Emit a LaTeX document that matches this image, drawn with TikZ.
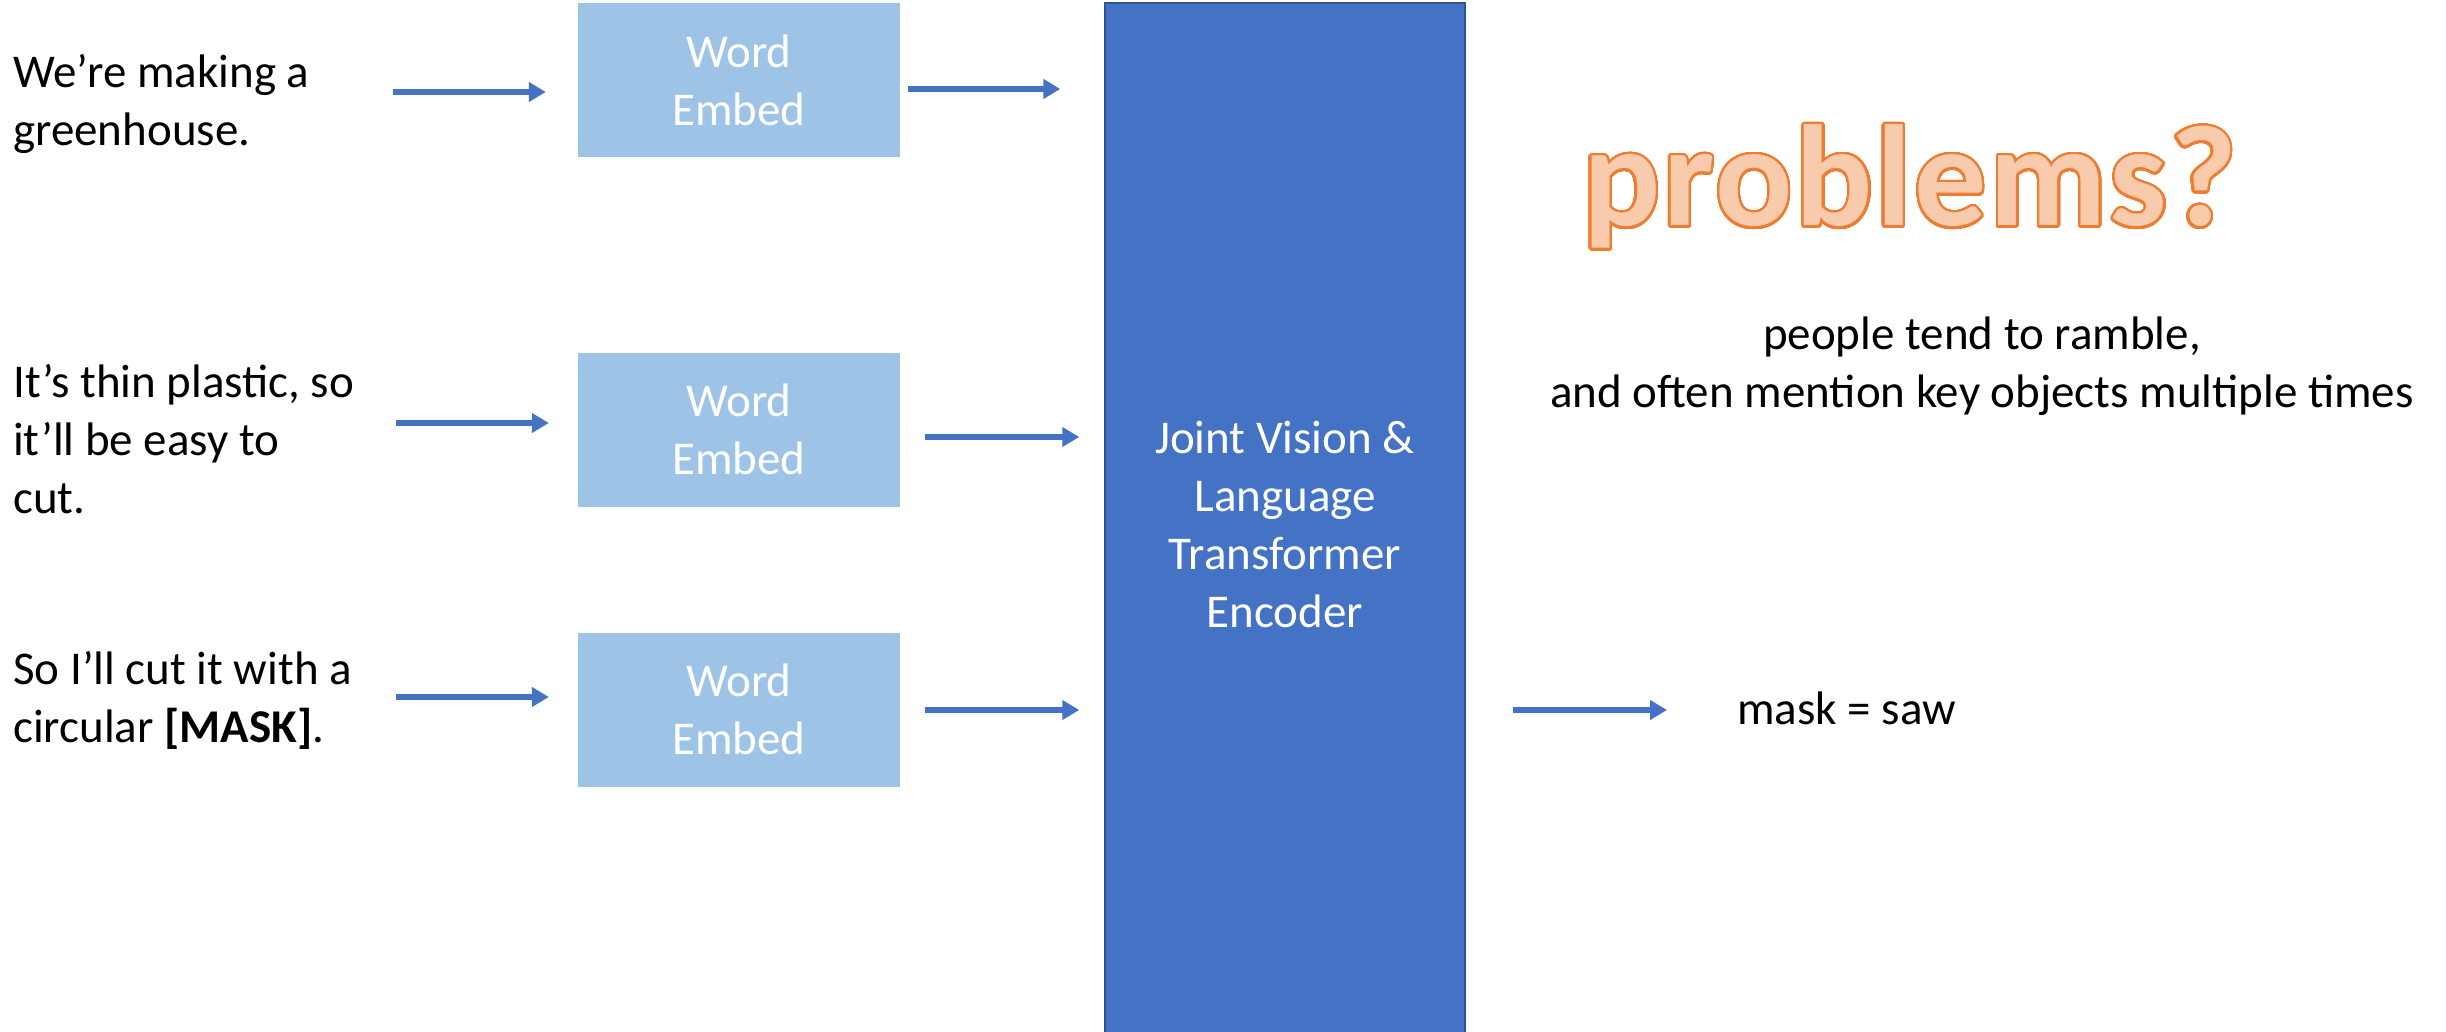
\documentclass[tikz,border=0pt]{standalone}
\usepackage{fontspec}
\setmainfont{Carlito}
\usepackage{contour}
\contourlength{2.4pt}
\contournumber{48}
\usetikzlibrary{arrows.meta}
\definecolor{accblue}{HTML}{4472C4}
\definecolor{lightblue}{HTML}{9DC3E6}
\definecolor{darkblue}{HTML}{2F528F}
\definecolor{orangeline}{HTML}{ED7D31}
\definecolor{orangefill}{HTML}{F8CBAD}
\begin{document}
\begin{tikzpicture}[x=1pt,y=-1pt,
  body/.style={font=\fontsize{47}{58}\selectfont},
  txt/.style={body, inner sep=0pt, align=left},
  embed/.style={body, fill=lightblue, minimum width=322pt, minimum height=154pt,
    inner sep=0pt, text=white, align=center},
  encoder/.style={body, fill=accblue, draw=darkblue, line width=1.5pt,
    minimum width=360pt, minimum height=1042pt, inner sep=0pt, text=white, align=center},
  arr/.style={draw=accblue, line width=5.5pt, -{Triangle[length=17pt,width=19pt]}}]
\useasboundingbox[fill=white] (0,0) rectangle (2446,1032);

% sentences (anchored at the baseline of their last line)
\node[txt, anchor=base west] (t1) at (13,146) {We’re making a\\greenhouse.};
\node[txt, anchor=base west] (t2) at (13,513) {It’s thin plastic, so\\it’ll be easy to\\cut.};
\node[txt, anchor=base west] (t3) at (13,742) {So I’ll cut it with a\\circular \textbf{[MASK]}.};

% word embedding boxes
\node[embed] (e1) at (739,80) {Word\\Embed};
\node[embed] (e2) at (739,429.5) {Word\\Embed};
\node[embed] (e3) at (739,709.5) {Word\\Embed};

% encoder
\node[encoder] (enc) at (1285,524) {Joint Vision \&\\Language\\Transformer\\Encoder};

% output
\node[txt, anchor=base west] (out) at (1737,724) {mask = saw};

% remark
\node[font=\fontsize{144}{160}\selectfont\bfseries\addfontfeatures{LetterSpace=2},
  text=orangefill, inner sep=0pt]
  (prob) at (1910,188) {\contour{orangeline}{problems?}};
\node[body, inner sep=0pt, align=center, anchor=base] (note) at (1982,407)
  {people tend to ramble,\\and often mention key objects multiple times};

% connectors
\draw[arr, shorten <=380pt, shorten >=32pt] (t1.west |- 0,92) -- (e1.west |- 0,92);
\draw[arr, shorten <=383pt, shorten >=29pt] (t2.west |- 0,423) -- (e2.west |- 0,423);
\draw[arr, shorten <=383pt, shorten >=29pt] (t3.west |- 0,697) -- (e3.west |- 0,697);
\draw[arr, shorten <=8pt, shorten >=44pt] (e1.east |- 0,89) -- (enc.west |- 0,89);
\draw[arr, shorten <=25pt, shorten >=25pt] (e2.east |- 0,437) -- (enc.west |- 0,437);
\draw[arr, shorten <=25pt, shorten >=25pt] (e3.east |- 0,710) -- (enc.west |- 0,710);
\draw[arr, shorten <=47pt, shorten >=70pt] (enc.east |- 0,710) -- (out.west |- 0,710);
\end{tikzpicture}
\end{document}
